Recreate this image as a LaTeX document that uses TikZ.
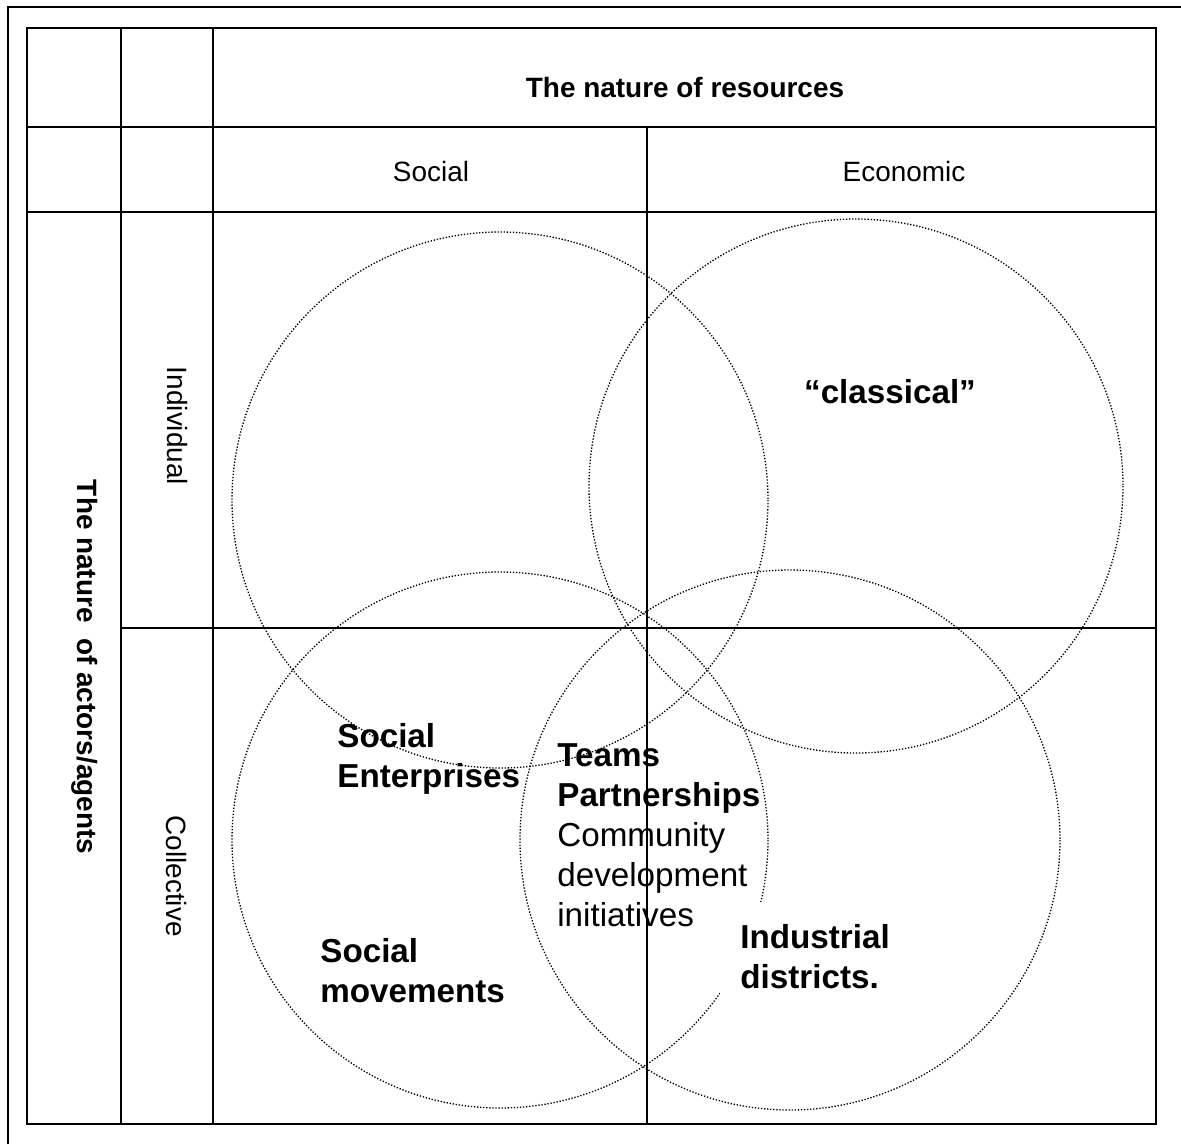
\documentclass[tikz,border=0pt]{standalone}
\usepackage{fontspec}
\setmainfont{Liberation Sans}

\begin{document}
\begin{tikzpicture}[x=0.02cm, y=-0.02cm,
  rule/.style={line width=1pt, black},
  venn/.style={line width=0.75pt, dash pattern=on 0.75pt off 1pt},
  headtxt/.style={font=\fontsize{15.9}{19}\selectfont, inner sep=0pt},
  celltxt/.style={font=\fontsize{18.9}{22.8}\selectfont\bfseries, align=left, inner sep=0pt, anchor=north west}]

\useasboundingbox (0,0) rectangle (1181,1144);

\draw[rule] (8,1144) -- (8,7) -- (1181,7);

\coordinate (ind soc) at (500,500);
\coordinate (ind eco) at (856,486);
\coordinate (col soc) at (500,840);
\coordinate (col eco) at (790,840);

\draw[venn] (ind soc) circle[radius=268];
\draw[venn] (ind eco) circle[radius=267];
\draw[venn] (col soc) circle[radius=268];
\draw[venn] (col eco) circle[radius=270];

\draw[rule] (27,28) rectangle (1156,1124);
\draw[rule] (27,127) -- (1156,127);
\draw[rule] (27,212) -- (1156,212);
\draw[rule] (121,628) -- (1156,628);
\draw[rule] (121,28) -- (121,1124);
\draw[rule] (213,28) -- (213,1124);
\draw[rule] (647,127) -- (647,1124);

\node[headtxt, font=\fontsize{15.9}{19}\selectfont\bfseries] (resources) at (685,88) {The nature of resources};
\node[headtxt] (social) at (431,172) {Social};
\node[headtxt] (economic) at (904,172) {Economic};
\node[headtxt, font=\fontsize{15.9}{19}\selectfont\bfseries, rotate=-90] (actors) at (85,667) {The nature~ of actors/agents};
\node[headtxt, rotate=-90] (individual) at (177,426) {Individual};
\node[headtxt, rotate=-90] (collective) at (176,876) {Collective};

\node[celltxt, anchor=base] (classical) at (890,403) {“classical”};
\node[celltxt] (socent) at (337,723) {Social\\Enterprises};
\node[celltxt] (teams) at (557,743) {Teams\\Partnerships\\\mdseries Community\\\mdseries development\\\mdseries initiatives};
\node[celltxt, fill=white, inner xsep=0.4cm, inner ysep=0.44cm] (industrial) at (720,902) {Industrial\\districts.};
\node[celltxt] (movements) at (320,938) {Social\\movements};

\end{tikzpicture}
\end{document}
